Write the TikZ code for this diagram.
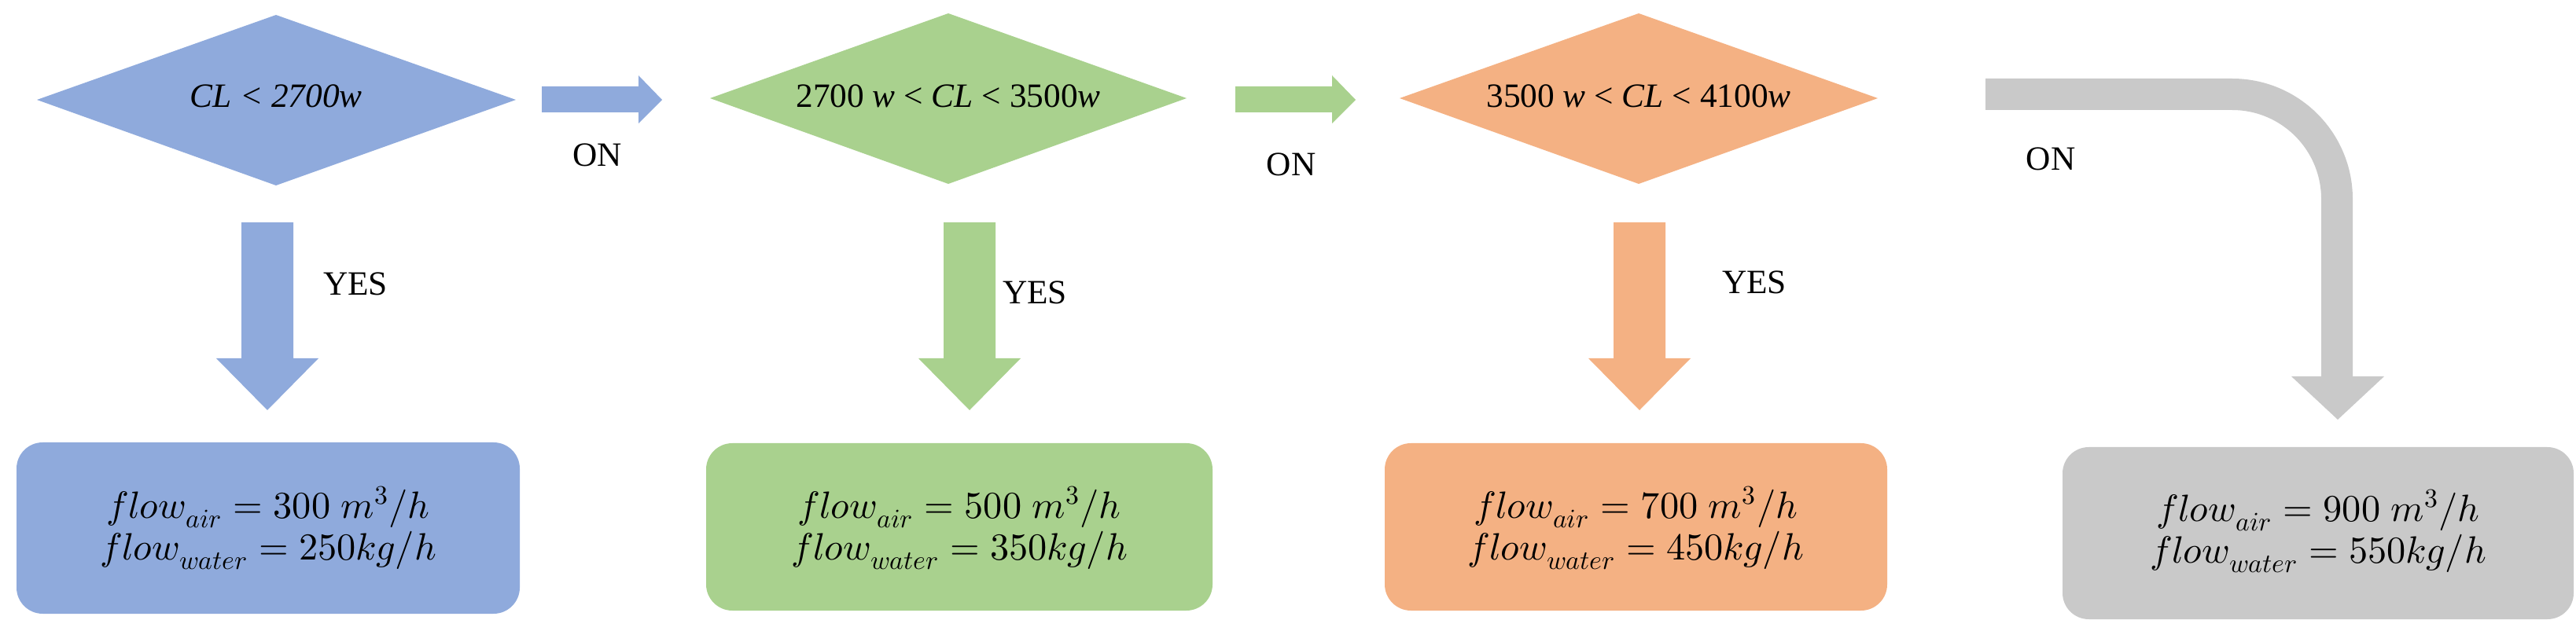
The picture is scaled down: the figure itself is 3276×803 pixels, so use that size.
\documentclass[tikz,border=0pt]{standalone}
\usepackage{fontspec}
\usepackage{unicode-math}
\setmainfont{Liberation Serif}
\usetikzlibrary{shapes.geometric}
\definecolor{cblue}{HTML}{8FAADC}
\definecolor{cgreen}{HTML}{A9D18E}
\definecolor{corange}{HTML}{F4B183}
\definecolor{cgray}{HTML}{C9C9C9}
\begin{document}
\begin{tikzpicture}[x=0.3pt,y=-0.3pt,
  dia/.style={inner sep=0pt,font=\fontsize{13}{15}\selectfont\itshape},
  lab/.style={inner sep=0pt,font=\fontsize{13}{15}\selectfont},
  box/.style={rounded corners=10pt},
  btxt/.style={inner sep=0pt,align=center,font=\fontsize{14.5}{16}\selectfont}]
\useasboundingbox (0,0) rectangle (3276,803);
% diamonds
\fill[cblue] (47,127) -- (351,19) -- (656,127) -- (351,236) -- cycle;
\node[dia] (d1) at (351,122) {CL < 2700w};
\fill[cgreen] (903,125) -- (1206,17) -- (1509,125) -- (1206,234) -- cycle;
\node[dia] (d2) at (1206,122) {\upshape 2700 \itshape w \upshape < \itshape CL \upshape < 3500\itshape w};
\fill[corange] (1780,125) -- (2084,17) -- (2388,125) -- (2084,234) -- cycle;
\node[dia] (d3) at (2084,122) {\upshape 3500 \itshape w \upshape < \itshape CL \upshape < 4100\itshape w};
% right arrows
\fill[cblue] (689,110) -- (812,110) -- (812,96) -- (842,127) -- (812,157) -- (812,143) -- (689,143) -- cycle;
\fill[cgreen] (1571,110) -- (1694,110) -- (1694,96) -- (1724,127) -- (1694,157) -- (1694,143) -- (1571,143) -- cycle;
\node[lab] (on1) at (760,197) {ON};
\node[lab] (on2) at (1642,209) {ON};
\node[lab] (on3) at (2608,202) {ON};
% down arrows
\foreach \c/\cx in {cblue/340,cgreen/1233,corange/2085}{
  \fill[\c] (\cx-33,283) -- (\cx+33,283) -- (\cx+33,456) -- (\cx+65,456) -- (\cx,522) -- (\cx-65,456) -- (\cx-33,456) -- cycle;
}
\node[lab] (y1) at (452,361) {YES};
\node[lab] (y2) at (1316,372) {YES};
\node[lab] (y3) at (2231,359) {YES};
% gray bent arrow
\draw[cgray,line width=12pt,rounded corners=40pt] (2525,120) -- (2972,120) -- (2972,481);
\fill[cgray] (2914,479) -- (3032,479) -- (2973,534) -- cycle;
% boxes
\fill[cblue,box] (21,563) rectangle (661,781);
\node[btxt] (b1) at (341,672) {$flow_{air} = 300\;m^3/h$\\ $flow_{water} = 250kg/h$};
\fill[cgreen,box] (898,564) rectangle (1542,777);
\node[btxt] (b2) at (1220,672) {$flow_{air} = 500\;m^3/h$\\ $flow_{water} = 350kg/h$};
\fill[corange,box] (1761,564) rectangle (2400,777);
\node[btxt] (b3) at (2080,672) {$flow_{air} = 700\;m^3/h$\\ $flow_{water} = 450kg/h$};
\fill[cgray,box] (2623,569) rectangle (3273,788);
\node[btxt] (b4) at (2948,676) {$flow_{air} = 900\;m^3/h$\\ $flow_{water} = 550kg/h$};
\end{tikzpicture}
\end{document}
